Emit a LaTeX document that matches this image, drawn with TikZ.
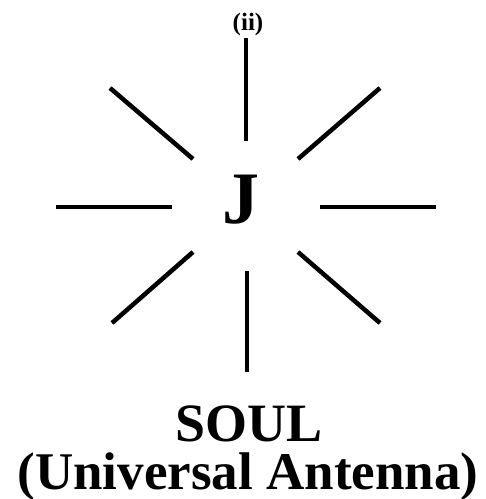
\documentclass[tikz,border=0pt]{standalone}
\usepackage{fontspec}
\setmainfont{Liberation Serif}
\begin{document}
\begin{tikzpicture}[x=1pt,y=-1pt,
  spoke/.style={line width=4.5pt,black},
  lbl/.style={font=\bfseries,inner sep=0pt,anchor=base}]
\useasboundingbox (0,0) rectangle (486,499);
\fill[white] (0,0) rectangle (486,499);
\node[lbl,font=\bfseries\fontsize{25}{25}\selectfont] (ii) at (248,30) {(ii)};
\node[lbl,font=\bfseries\fontsize{74}{74}\selectfont] (J) at (241,223) {J};
% spokes
\coordinate (t1) at (246,38);  \coordinate (t2) at (246,141);
\coordinate (b1) at (247,271); \coordinate (b2) at (247,372);
\coordinate (l1) at (56,207);  \coordinate (l2) at (172,207);
\coordinate (r1) at (320,207); \coordinate (r2) at (436,207);
\coordinate (ul1) at (110,88); \coordinate (ul2) at (193,159);
\coordinate (ur1) at (380,88); \coordinate (ur2) at (298,159);
\coordinate (dl1) at (193,252); \coordinate (dl2) at (112,323);
\coordinate (dr1) at (298,252); \coordinate (dr2) at (380,323);
\draw[spoke] (t1) -- (t2);
\draw[spoke] (b1) -- (b2);
\draw[spoke] (l1) -- (l2);
\draw[spoke] (r1) -- (r2);
\draw[spoke] (ul1) -- (ul2);
\draw[spoke] (ur1) -- (ur2);
\draw[spoke] (dl1) -- (dl2);
\draw[spoke] (dr1) -- (dr2);
\node[lbl,font=\bfseries\fontsize{54}{54}\selectfont] (soul) at (249,441) {SOUL};
\node[lbl,font=\bfseries\fontsize{53}{53}\selectfont] (ua) at (248,489) {(Universal Antenna)};
\end{tikzpicture}
\end{document}
